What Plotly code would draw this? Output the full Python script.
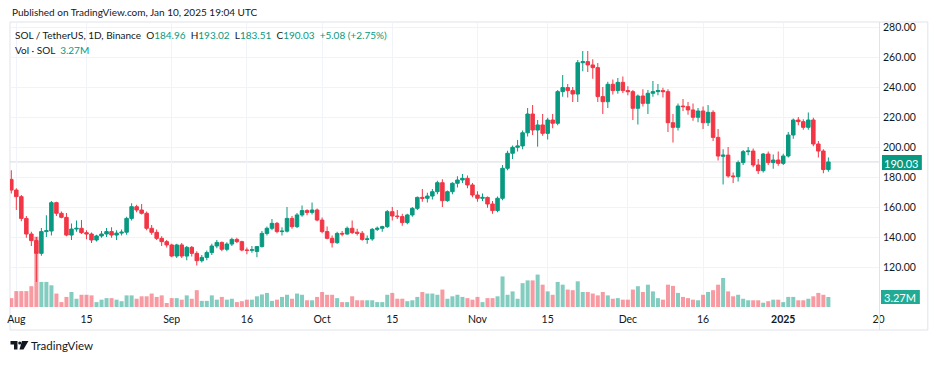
import plotly.graph_objects as go
import pandas as pd

# ---------------- data ----------------
dates = pd.date_range("2024-07-31", "2025-01-10", freq="D")

opens = [178.4, 171.3, 166.9, 152.4, 142.0, 137.6, 129.1, 143.6, 144.0, 162.9,
         155.8, 153.1, 141.3, 145.3, 145.8, 142.9, 142.0, 138.0, 140.7, 142.0,
         143.6, 141.3, 142.6, 143.2, 152.4, 160.2, 158.0, 155.8, 145.8, 143.1,
         139.1, 136.9, 134.7, 127.3, 134.7, 127.3, 133.1, 129.1, 124.2, 126.4,
         129.6, 134.0, 136.4, 131.8, 135.3, 138.4, 136.9, 131.3, 131.1, 130.4,
         133.6, 142.4, 145.8, 149.1, 143.6, 143.9, 152.4, 146.9, 154.7, 157.6,
         156.4, 158.0, 151.3, 143.6, 139.1, 136.2, 142.4, 142.0, 145.8, 143.2,
         142.5, 138.4, 138.7, 145.1, 145.8, 146.9, 156.9, 154.0, 153.6, 149.6,
         154.7, 159.1, 166.4, 165.8, 167.3, 170.2, 176.2, 164.2, 170.2, 175.8,
         178.0, 179.1, 174.7, 168.0, 165.8, 166.4, 162.0, 157.6, 165.8, 185.8,
         195.8, 199.8, 200.7, 209.5, 222.0, 211.3, 214.7, 209.1, 218.0, 215.8,
         236.9, 239.6, 237.6, 235.3, 256.2, 256.9, 254.7, 252.9, 233.6, 230.2,
         241.8, 237.6, 243.1, 237.6, 236.9, 225.8, 234.0, 229.1, 235.8, 236.9,
         237.6, 236.9, 216.2, 213.1, 227.3, 226.9, 224.7, 219.8, 224.0, 216.2,
         223.1, 206.4, 193.8, 194.6, 180.7, 180.2, 189.6, 196.9, 197.3, 188.0,
         184.2, 195.3, 189.6, 191.3, 189.1, 194.0, 208.0, 218.0, 216.9, 213.1,
         218.0, 202.0, 197.3, 184.96]

highs = [184.5, 172.5, 168.0, 154.0, 143.5, 140.0, 146.0, 154.5, 164.0, 163.5,
         157.0, 156.0, 149.0, 151.0, 151.3, 144.5, 143.0, 141.5, 144.0, 146.0,
         146.5, 144.5, 145.0, 153.5, 162.5, 161.5, 162.0, 157.0, 148.0, 145.0,
         140.5, 138.0, 135.5, 135.5, 136.0, 134.0, 134.0, 130.5, 128.0, 131.0,
         135.5, 138.0, 137.0, 136.5, 139.5, 139.5, 137.5, 133.0, 134.0, 134.0,
         144.0, 147.0, 152.0, 150.0, 146.5, 160.0, 154.0, 156.0, 161.0, 158.5,
         163.0, 159.0, 153.0, 147.0, 141.0, 143.5, 144.0, 147.0, 151.0, 145.5,
         144.0, 141.0, 146.0, 147.0, 147.5, 158.0, 160.0, 158.0, 155.5, 155.5,
         160.0, 167.0, 172.0, 169.5, 172.0, 177.5, 178.5, 171.0, 176.5, 180.5,
         182.0, 181.0, 176.0, 170.5, 169.0, 167.0, 164.0, 167.0, 188.0, 197.5,
         201.0, 204.7, 211.0, 226.0, 228.0, 218.0, 222.0, 219.5, 222.0, 238.0,
         248.0, 242.0, 240.0, 258.0, 264.0, 264.0, 258.5, 256.0, 240.0, 243.5,
         245.0, 246.0, 247.0, 240.5, 238.0, 235.0, 238.5, 238.0, 244.0, 242.0,
         239.5, 238.5, 222.0, 229.0, 232.0, 230.0, 229.0, 226.0, 227.0, 228.0,
         224.5, 212.0, 198.5, 200.0, 183.0, 191.0, 198.0, 200.0, 199.0, 192.0,
         196.0, 197.0, 195.0, 197.0, 195.5, 210.0, 219.0, 220.0, 218.5, 223.0,
         219.5, 204.0, 198.5, 193.02]

lows = [169.0, 158.0, 150.5, 139.5, 134.0, 110.0, 127.5, 140.0, 141.0, 154.0,
        152.5, 140.5, 138.0, 143.5, 142.0, 138.5, 136.0, 137.0, 139.5, 140.0,
        139.5, 138.0, 141.0, 141.5, 151.0, 156.5, 155.0, 144.5, 141.5, 138.0,
        134.0, 133.0, 126.5, 126.0, 126.0, 124.5, 127.0, 121.0, 123.0, 124.5,
        128.0, 132.5, 130.5, 130.5, 134.0, 136.0, 130.5, 128.5, 129.5, 126.5,
        133.0, 141.0, 144.5, 142.5, 141.0, 143.0, 145.5, 146.0, 153.5, 154.5,
        155.0, 150.5, 142.5, 138.5, 133.0, 135.5, 140.5, 141.5, 142.0, 141.0,
        137.5, 135.5, 137.5, 144.0, 143.5, 146.0, 151.0, 152.0, 147.5, 148.5,
        153.5, 158.0, 163.5, 163.0, 165.0, 168.5, 160.0, 163.5, 168.5, 173.0,
        176.0, 172.5, 166.5, 163.5, 164.0, 159.5, 155.5, 156.5, 164.5, 184.5,
        192.0, 197.0, 198.5, 207.0, 208.0, 200.2, 207.5, 205.0, 212.5, 214.5,
        233.5, 233.0, 230.0, 230.0, 250.5, 250.0, 245.5, 230.0, 222.0, 226.0,
        235.0, 235.5, 236.0, 234.5, 218.0, 215.0, 227.0, 222.0, 233.5, 234.5,
        233.0, 210.0, 203.0, 211.0, 224.0, 221.5, 217.5, 216.5, 212.0, 214.0,
        204.0, 191.0, 175.0, 179.5, 176.0, 177.0, 188.0, 194.5, 186.5, 182.0,
        183.0, 188.0, 185.5, 187.5, 188.0, 193.0, 205.5, 214.5, 211.5, 211.5,
        200.5, 193.0, 182.5, 183.51]

closes = [171.3, 166.9, 152.4, 142.0, 137.6, 129.1, 143.6, 144.2, 162.9, 155.8,
          153.1, 141.3, 145.3, 145.8, 142.9, 142.0, 138.0, 140.7, 142.0, 143.6,
          141.3, 142.6, 143.2, 152.4, 160.2, 158.0, 155.8, 145.8, 143.1, 139.1,
          136.9, 134.7, 127.3, 134.7, 127.3, 133.1, 129.1, 124.2, 126.4, 129.6,
          134.0, 136.4, 131.8, 135.3, 138.4, 136.9, 131.3, 131.1, 131.5, 133.6,
          142.4, 145.8, 149.1, 143.6, 143.9, 152.4, 146.9, 154.7, 157.6, 156.4,
          158.0, 151.3, 143.6, 139.1, 136.2, 142.4, 142.0, 145.8, 142.9, 142.5,
          138.4, 138.7, 145.1, 145.8, 146.9, 156.9, 154.0, 153.6, 149.6, 154.7,
          159.1, 166.4, 165.8, 167.3, 170.2, 176.2, 164.2, 170.2, 175.8, 178.0,
          179.1, 174.7, 168.0, 165.8, 166.4, 162.0, 157.6, 165.8, 185.8, 195.8,
          199.8, 200.7, 209.5, 222.0, 211.3, 214.7, 209.1, 218.0, 215.8, 236.9,
          239.6, 237.6, 235.3, 256.2, 256.9, 254.7, 252.9, 233.6, 230.2, 241.8,
          237.6, 243.1, 237.6, 236.9, 225.8, 234.0, 229.1, 235.8, 236.9, 237.6,
          236.9, 216.2, 213.1, 227.3, 226.9, 224.7, 219.8, 224.0, 216.2, 223.1,
          206.4, 194.0, 194.6, 180.7, 180.2, 189.6, 196.9, 197.3, 188.0, 184.2,
          195.3, 189.6, 191.3, 189.1, 194.0, 208.0, 218.0, 216.9, 213.1, 218.0,
          202.0, 197.3, 184.96, 190.03]

volumes_m = [2.9, 5.2, 5.2, 5.2, 6.8, 23.0, 8.2, 8.2, 7.1, 4.4,
             1.6, 3.3, 4.9, 2.7, 4.0, 4.0, 3.8, 1.6, 2.4, 2.9,
             2.9, 2.4, 1.9, 3.8, 3.8, 2.7, 3.5, 3.5, 4.4, 3.3,
             3.8, 1.3, 2.9, 2.9, 2.4, 3.8, 2.7, 5.5, 2.0, 2.0,
             3.8, 2.4, 3.3, 2.4, 2.7, 1.6, 1.9, 2.4, 2.4, 3.5,
             4.1, 4.6, 2.0, 2.4, 3.3, 4.0, 2.7, 4.4, 4.0, 2.2,
             2.2, 3.3, 4.9, 4.0, 4.0, 2.9, 1.6, 1.6, 3.5, 2.2,
             2.2, 2.2, 2.2, 1.6, 1.6, 4.0, 4.6, 2.7, 2.7, 1.9,
             2.2, 3.3, 4.9, 4.4, 4.4, 4.0, 5.7, 2.7, 3.5, 4.0,
             3.3, 2.9, 2.4, 3.3, 1.6, 2.9, 2.9, 3.5, 10.0, 4.0,
             5.1, 2.7, 7.8, 8.7, 8.7, 10.6, 7.3, 5.1, 4.0, 8.2,
             7.3, 5.7, 5.5, 8.4, 4.9, 4.9, 4.4, 3.8, 4.9, 3.8,
             2.7, 2.9, 2.4, 2.4, 5.7, 6.8, 4.9, 7.3, 5.1, 2.9,
             2.4, 7.3, 6.9, 4.6, 3.3, 2.9, 2.4, 2.2, 4.0, 4.9,
             5.5, 7.3, 9.5, 5.1, 3.5, 4.0, 2.7, 2.2, 2.2, 2.2,
             1.4, 1.9, 2.4, 2.4, 1.6, 3.3, 3.3, 2.2, 2.2, 2.7,
             3.5, 4.6, 4.0, 3.27]

x_tick_dates = ["2024-08-01", "2024-08-15", "2024-09-01", "2024-09-16",
                "2024-10-01", "2024-10-15", "2024-11-01", "2024-11-15",
                "2024-12-01", "2024-12-16", "2025-01-01", "2025-01-20"]
x_tick_labels = ["Aug", "15", "Sep", "16", "Oct", "15", "Nov", "15",
                 "Dec", "16", "<b>2025</b>", "20"]
price_ticks = [120, 140, 160, 180, 200, 220, 240, 260, 280]
price_tick_labels = ["120.00", "140.00", "160.00", "180.00", "200.00",
                     "220.00", "240.00", "260.00", "280.00"]

last_price = 190.03
last_volume_label = "3.27M"

# ---------------- style ----------------
UP = "#089981"
DOWN = "#f23645"
UP_VOL = "rgba(8,153,129,0.5)"
DOWN_VOL = "rgba(242,54,69,0.5)"
TXT = "#131722"
GRID = "#f0f3fa"
FONT = "Lato, 'Liberation Sans', sans-serif"

W, H = 934, 366
L, R, T, B = 7, 879, 22, 307


def fx(px):
    return (px - L) / (R - L)


def fy(py):
    return (B - py) / (B - T)


vol_colors = [UP_VOL if c >= o else DOWN_VOL for o, c in zip(opens, closes)]

fig = go.Figure()
fig.add_trace(go.Bar(
    x=dates, y=volumes_m, marker=dict(color=vol_colors, line=dict(width=0)),
    width=0.8 * 86400000, yaxis="y", hoverinfo="skip"))
fig.add_trace(go.Candlestick(
    x=dates, open=opens, high=highs, low=lows, close=closes, yaxis="y2",
    increasing=dict(line=dict(color=UP, width=1), fillcolor=UP),
    decreasing=dict(line=dict(color=DOWN, width=1), fillcolor=DOWN),
    whiskerwidth=0))

day = pd.Timedelta(days=1)
x0 = dates[0] - 0.26 * day
x1 = dates[0] + 173.1 * day

fig.update_layout(
    width=W, height=H, margin=dict(l=L, r=W - R, t=T, b=H - B),
    paper_bgcolor="white", plot_bgcolor="white", showlegend=False,
    font=dict(family=FONT, size=10.5, color=TXT),
    boxgap=0.3, boxgroupgap=0,
    xaxis=dict(type="date", range=[x0, x1], tickvals=x_tick_dates,
               ticktext=x_tick_labels, showgrid=True, gridcolor=GRID,
               gridwidth=1, zeroline=False, showline=False, ticks="",
               ticklabelstandoff=4,
               rangeslider=dict(visible=False), tickfont=dict(size=10.5, color=TXT)),
    yaxis=dict(range=[0, 93.2], visible=False, showgrid=False, zeroline=False),
    yaxis2=dict(overlaying="y", side="right", range=[93.33, 283.33],
                tickvals=price_ticks, ticktext=price_tick_labels,
                showgrid=True, gridcolor=GRID, zeroline=False, showline=False,
                ticks="", ticklabelstandoff=3, tickfont=dict(size=10.5, color=TXT)),
)

g = f"<span style='color:{UP}'>"
legend1 = ("SOL / TetherUS, 1D, Binance&nbsp;&nbsp;O" + g + "184.96</span>&nbsp;&nbsp;H" + g +
           "193.02</span>&nbsp;&nbsp;L" + g + "183.51</span>&nbsp;&nbsp;C" + g +
           "190.03</span>&nbsp;&nbsp;" + g + "+5.08 (+2.75%)</span>")
legend2 = "Vol · SOL&nbsp;&nbsp;" + g + "3.27M</span>"

ann = [
    dict(x=fx(7), y=fy(12), text="Published on TradingView.com, Jan 10, 2025 19:04 UTC",
         font=dict(size=10, color=TXT), xanchor="left"),
    dict(x=fx(10), y=fy(34.5), text=legend1, font=dict(size=10, color=TXT), xanchor="left"),
    dict(x=fx(10), y=fy(50.5), text=legend2, font=dict(size=10, color=TXT), xanchor="left"),
    dict(x=fx(902), y=fy(163), text=f"{last_price:.2f}", font=dict(size=11, color="white"),
         xanchor="center"),
    dict(x=fx(900.5), y=fy(297), text=last_volume_label, font=dict(size=11, color="white"),
         xanchor="center"),
    dict(x=fx(26), y=fy(345.5), text="TradingView", font=dict(size=11.5, color=TXT),
         xanchor="left"),
]
for a in ann:
    a.update(xref="paper", yref="paper", showarrow=False, yanchor="middle")
fig.update_layout(annotations=ann)

shapes = [
    # outer frame
    dict(type="rect", xref="paper", yref="paper", x0=fx(7), x1=fx(928), y0=fy(330), y1=fy(22),
         line=dict(color="#e0e3eb", width=1), layer="below"),
    # pane / price-scale separator
    dict(type="line", xref="paper", yref="paper", x0=fx(879.5), x1=fx(879.5), y0=fy(330), y1=fy(22),
         line=dict(color="#e0e3eb", width=1)),
    # last price line
    dict(type="line", xref="paper", yref="y2", x0=0, x1=1, y0=last_price, y1=last_price,
         line=dict(color="#d6d9df", width=1), layer="below"),
    # price badge
    dict(type="rect", xref="paper", yref="paper", x0=fx(882), x1=fx(922), y0=fy(170), y1=fy(155),
         fillcolor=UP, line=dict(width=0)),
    # volume badge
    dict(type="rect", xref="paper", yref="paper", x0=fx(881), x1=fx(920), y0=fy(304), y1=fy(290),
         fillcolor="#22ab94", line=dict(width=0)),
]


def p(pts):
    return "M " + " L ".join(f"{fx(a):.5f},{fy(b):.5f}" for a, b in pts) + " Z"


logo = [
    p([(7.5, 341), (14.5, 341), (14.5, 349.5), (11, 349.5), (11, 344.5), (7.5, 344.5)]),
    p([(19, 341), (25.5, 341), (20.5, 349.5), (16.5, 349.5)]),
]
for path in logo:
    shapes.append(dict(type="path", xref="paper", yref="paper", path=path,
                       fillcolor=TXT, line=dict(width=0)))
shapes.append(dict(type="circle", xref="paper", yref="paper", x0=fx(15.2), x1=fx(18.4),
                   y0=fy(344.6), y1=fy(341.4), fillcolor=TXT, line=dict(width=0)))
fig.update_layout(shapes=shapes)

fig.write_html("out.html", config={"displayModeBar": False},
               post_script="document.body.style.margin='0';document.body.style.overflow='hidden';")
